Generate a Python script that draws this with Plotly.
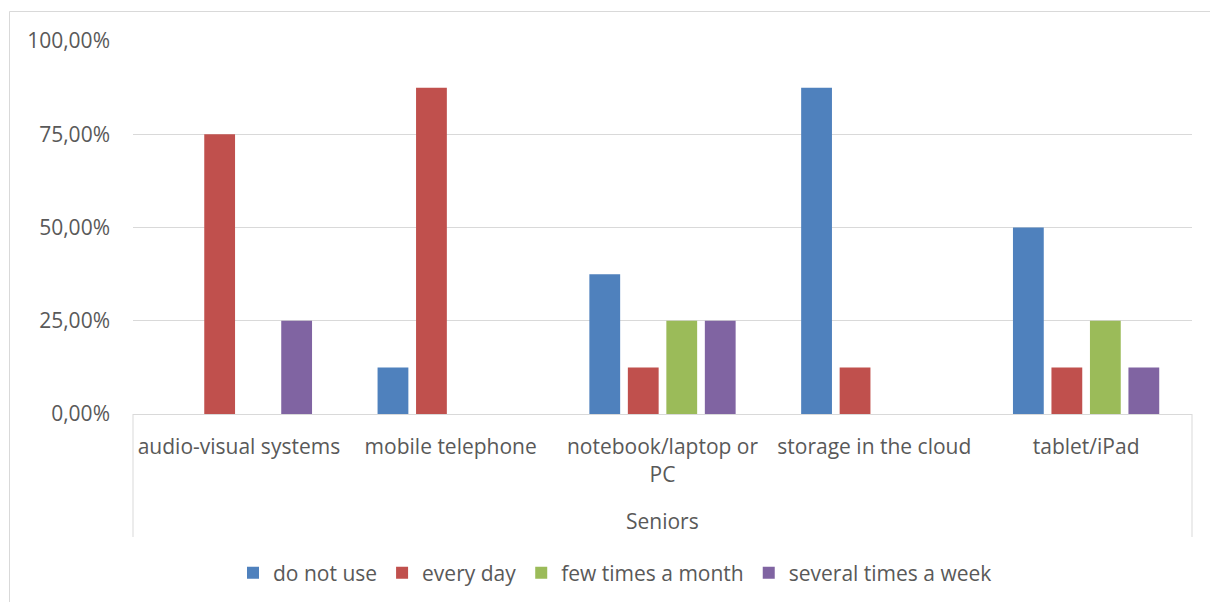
import plotly.graph_objects as go

# Device categories (single outer group "Seniors")
group_label = "Seniors"
categories = [
    "audio-visual systems",
    "mobile telephone",
    "notebook/laptop or PC",
    "storage in the cloud",
    "tablet/iPad",
]
category_ticktext = [
    "audio-visual systems",
    "mobile telephone",
    "notebook/laptop or<br>PC",
    "storage in the cloud",
    "tablet/iPad",
]

# Share of respondents per frequency of use
do_not_use = [0.0, 0.125, 0.375, 0.875, 0.50]
every_day = [0.75, 0.875, 0.125, 0.125, 0.125]
few_times_a_month = [0.0, 0.0, 0.25, 0.0, 0.25]
several_times_a_week = [0.25, 0.0, 0.25, 0.0, 0.125]

series_names = ["do not use", "every day", "few times a month", "several times a week"]
series_values = [do_not_use, every_day, few_times_a_month, several_times_a_week]
series_colors = ["#4F81BD", "#C0504D", "#9BBB59", "#8064A2"]

y_ticks = [0, 0.25, 0.5, 0.75, 1.0]

FONT = "Open Sans"
FS = 21
TEXT = "#595959"
GRID = "#D9D9D9"

fig = go.Figure()
for name, vals, col in zip(series_names, series_values, series_colors):
    fig.add_trace(go.Bar(
        name=name,
        x=categories,
        y=vals,
        marker=dict(color=col, line=dict(width=0)),
    ))

W, H = 1210, 602
L, R, T, B = 133, 18, 41, 188
pw = W - L - R
ph = H - T - B


def px_x(px):
    return (px - L) / pw


def px_y(py):
    return (H - B - py) / ph


fig.update_layout(
    width=W,
    height=H,
    margin=dict(l=L, r=R, t=T, b=B, autoexpand=False),
    paper_bgcolor="white",
    plot_bgcolor="white",
    separators=",.",
    barmode="group",
    bargap=0.273,
    bargroupgap=0.2,
    font=dict(family=FONT, size=FS, color=TEXT),
    xaxis=dict(
        type="category",
        tickmode="array",
        tickvals=categories,
        ticktext=category_ticktext,
        showgrid=False,
        showline=True,
        linecolor=GRID,
        linewidth=1,
        ticks="",
        ticklabelstandoff=14,
        tickfont=dict(family=FONT, size=FS, color=TEXT),
        range=[-0.5, 4.5],
        fixedrange=True,
    ),
    yaxis=dict(
        range=[0, 1.0],
        tickmode="array",
        tickvals=y_ticks,
        tickformat=".2%",
        showgrid=True,
        gridcolor=GRID,
        gridwidth=1,
        zeroline=False,
        showline=False,
        ticks="",
        ticklabelstandoff=22,
        tickfont=dict(family=FONT, size=FS, color=TEXT),
        fixedrange=True,
    ),
    legend=dict(
        orientation="h",
        x=px_x(615),
        xanchor="center",
        y=px_y(573),
        yanchor="middle",
        font=dict(family=FONT, size=FS, color=TEXT),
        itemwidth=30,
        traceorder="normal",
        bgcolor="rgba(0,0,0,0)",
    ),
    showlegend=True,
)

# Outer group label
fig.add_annotation(
    text=group_label,
    xref="paper", yref="paper",
    x=0.5, y=px_y(521),
    xanchor="center", yanchor="middle",
    showarrow=False,
    font=dict(family=FONT, size=FS, color=TEXT),
)

# Category axis frame (left/right dividers of the outer group)
for xp in (0.0, 1.0):
    fig.add_shape(
        type="line", xref="paper", yref="paper",
        x0=xp, x1=xp, y0=0, y1=px_y(537),
        line=dict(color=GRID, width=1),
    )

# Chart area border
fig.add_shape(
    type="rect", xref="paper", yref="paper",
    x0=px_x(9.5), x1=px_x(1230), y0=px_y(11.5), y1=px_y(640),
    line=dict(color=GRID, width=1),
    fillcolor="rgba(0,0,0,0)",
    layer="below",
)

fig.write_html("out.html", config={"displayModeBar": False})
